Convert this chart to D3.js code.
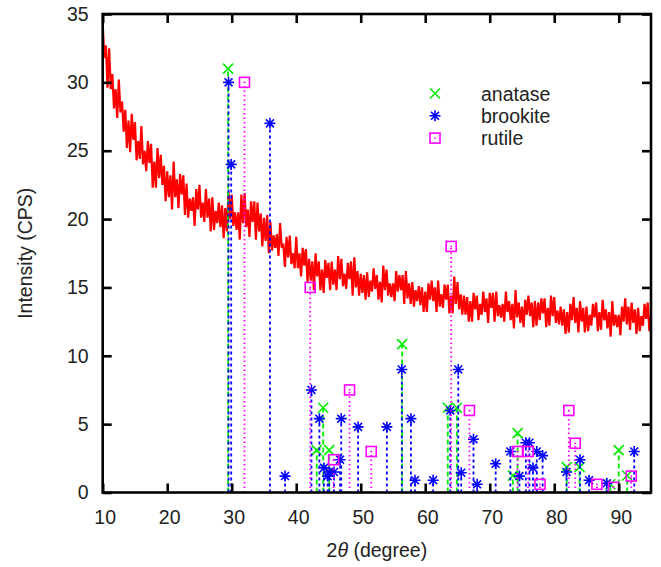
<!DOCTYPE html>
<html>
<head>
<meta charset="utf-8">
<title>XRD pattern</title>
<script src="https://cdn.jsdelivr.net/npm/d3@7"></script>
<style>
  body { margin: 0; background: #fff; }
  text { font-family: "Liberation Sans", Arial, Helvetica, sans-serif; fill: #222; }
</style>
</head>
<body>
<div id="chart"></div>
<script>

// measured scan, 2theta from 10 to 95 in steps of 0.25 degree
var scanStart = 10, scanStep = 0.25;
var intensity = [
  34.3, 31.8, 32.7, 29.6,  32.5, 29.5, 30.6, 28.1,  29.5, 27.4, 30.2, 27.8,  28.6, 26.4, 28.0, 25.2,
  27.2, 24.9, 27.7, 25.8,  27.1, 24.3, 25.7, 24.4,  26.8, 24.0, 25.0, 23.5,  25.7, 24.1, 25.5, 22.3,
  24.2, 22.3, 25.2, 23.0,  24.7, 22.5, 23.9, 21.3,  23.5, 21.6, 23.2, 20.7,  24.2, 21.6, 22.9, 20.8,
  23.3, 21.8, 23.2, 20.3,  22.6, 20.1, 21.5, 20.6,  21.6, 19.5, 22.2, 20.7,  22.5, 20.1, 21.2, 19.8,
  22.2, 20.1, 21.5, 19.1,  21.6, 19.2, 20.6, 19.7,  21.2, 19.4, 21.0, 18.6,  20.8, 19.1, 22.0, 20.0,
  21.8, 19.5, 20.5, 19.2,  20.5, 18.5, 21.8, 19.7,  21.9, 19.4, 20.7, 18.7,  21.3, 19.8, 21.3, 18.5,
  21.2, 19.1, 20.4, 18.0,  20.1, 18.4, 20.3, 17.5,  19.8, 17.7, 18.8, 17.9,  18.9, 17.3, 19.7, 17.9,
  18.2, 16.5, 18.7, 17.2,  18.8, 16.7, 17.5, 16.4,  18.7, 16.4, 17.5, 15.8,  17.9, 16.6, 17.8, 15.4,
  17.1, 15.5, 16.9, 14.8,  17.5, 15.8, 16.9, 14.8,  16.3, 14.6, 17.0, 15.7,  16.8, 14.8, 16.9, 15.2,
  16.3, 14.8, 17.3, 15.6,  17.1, 15.1, 16.0, 14.9,  16.8, 15.6, 16.9, 14.4,  17.2, 15.0, 16.2, 14.4,
  16.0, 14.6, 15.9, 14.1,  16.1, 14.3, 15.5, 14.7,  16.4, 14.9, 15.9, 14.1,  15.4, 13.9, 16.6, 14.8,
  16.3, 14.4, 15.3, 14.3,  15.3, 14.0, 16.2, 14.7,  15.9, 14.8, 15.9, 13.8,  16.2, 14.2, 15.3, 13.8,
  15.4, 13.6, 14.8, 14.0,  15.1, 13.7, 15.0, 13.2,  14.7, 13.2, 15.3, 14.1,  15.5, 14.0, 15.0, 13.2,
  15.5, 13.6, 14.5, 13.5,  15.2, 14.1, 15.2, 13.1,  14.4, 13.1, 15.8, 13.8,  15.4, 13.4, 14.5, 13.0,
  14.4, 13.0, 14.3, 12.5,  14.0, 12.5, 14.6, 13.4,  14.4, 12.6, 13.8, 13.0,  14.7, 13.2, 14.2, 12.4,
  14.6, 13.5, 14.6, 12.5,  14.7, 12.9, 13.7, 12.8,  13.8, 12.5, 14.7, 13.2,  14.0, 12.6, 13.8, 12.0,
  14.8, 12.8, 13.9, 12.4,  13.6, 12.1, 14.1, 13.0,  14.4, 12.9, 13.9, 12.1,  14.0, 12.2, 13.9, 12.6,
  14.2, 13.1, 14.2, 12.1,  13.5, 12.2, 14.4, 12.9,  14.3, 12.4, 13.3, 12.3,  13.6, 12.2, 13.4, 11.6,
  13.2, 11.7, 13.8, 12.6,  14.3, 12.4, 13.5, 11.7,  14.0, 12.5, 13.5, 11.7,  13.6, 11.8, 13.0, 12.2,
  13.8, 12.8, 13.9, 11.8,  13.2, 11.9, 14.1, 12.6,  13.4, 12.0, 13.2, 11.4,  14.0, 12.2, 13.0, 12.1,
  13.0, 11.5, 13.6, 12.5,  14.2, 12.3, 13.6, 11.9,  13.9, 12.4, 13.4, 11.6,  13.5, 11.8, 12.9, 12.2,
  13.8, 12.7, 13.9, 11.8,
  12.9
];

// reference lines (2theta, intensity)
var anataseAngle  = [29.44, 43.18, 44.19, 45.11, 56.42, 63.50, 64.91, 73.60, 74.32, 81.94, 83.92, 88.70, 90.00, 91.30];
var anataseHeight = [31.0, 3.1, 6.2, 3.1, 10.85, 6.2, 6.2, 1.24, 4.34, 1.86, 1.86, 0.6, 3.1, 1.24];

var brookiteAngle  = [29.51, 29.92, 35.93, 38.27, 42.36, 43.59, 44.30, 44.87, 45.11, 45.86, 46.80, 46.98, 49.59,
                      54.05, 56.37, 57.78, 58.41, 61.22, 63.88, 65.12, 65.58, 67.48, 68.05, 70.92, 73.20, 74.60,
                      75.60, 76.15, 76.70, 77.30, 78.20, 81.90, 84.00, 85.40, 88.15, 92.40];
var brookiteHeight = [30.0, 24.0, 27.0, 1.2, 7.5, 5.4, 1.8, 1.2, 1.5, 1.5, 2.4, 5.4, 4.8,
                      4.8, 9.0, 5.4, 0.9, 0.9, 6.0, 9.0, 1.45, 3.9, 0.6, 2.1, 3.0, 1.2,
                      3.64, 3.64, 1.8, 3.0, 2.7, 1.5, 2.4, 0.9, 0.67, 3.0];

var rutileAngle  = [31.98, 42.17, 45.80, 48.27, 51.63, 64.02, 66.85, 74.30, 75.95, 77.79, 82.26, 83.25, 86.62, 89.20, 91.94];
var rutileHeight = [30.0, 15.0, 2.4, 7.5, 3.0, 18.0, 6.0, 3.0, 3.0, 0.6, 6.0, 3.6, 0.6, 0.38, 1.2];

var xTicks = [10, 20, 30, 40, 50, 60, 70, 80, 90];
var yTicks = [0, 5, 10, 15, 20, 25, 30, 35];
var seriesNames = ["anatase", "brookite", "rutile"];

var W = 661, H = 567;
var L = 102.7, R = 651, T = 14, B = 492.5;

var x = d3.scaleLinear().domain([10, 95]).range([L, R]);
var y = d3.scaleLinear().domain([0, 35]).range([B, T]);

var svg = d3.select("#chart").append("svg")
    .attr("width", W)
    .attr("height", H);

svg.append("defs").append("clipPath").attr("id", "plotclip")
  .append("rect").attr("x", L).attr("y", T).attr("width", R - L).attr("height", B - T);

// scan curve
var scan = intensity.map(function(v, i) { return [scanStart + i * scanStep, v]; });
svg.append("path")
    .datum(scan)
    .attr("clip-path", "url(#plotclip)")
    .attr("fill", "none")
    .attr("stroke", "#ff0000")
    .attr("stroke-width", 2.2)
    .attr("d", d3.line().x(function(d) { return x(d[0]); }).y(function(d) { return y(d[1]); }));

// marker shapes
function cross(g, s) {
  g.append("path").attr("d", "M" + (-s) + "," + (-s) + "L" + s + "," + s + "M" + (-s) + "," + s + "L" + s + "," + (-s));
}
function star(g, s) {
  cross(g, s * 0.72);
  g.append("path").attr("d", "M" + (-s) + ",0L" + s + ",0M0," + (-s) + "L0," + s);
}
function box(g, s, col) {
  g.append("rect").attr("x", -s).attr("y", -s).attr("width", 2 * s).attr("height", 2 * s).attr("fill", "none");
  g.append("circle").attr("r", 0.9).attr("fill", col).attr("stroke", "none");
}

var series = [
  { angle: anataseAngle,  height: anataseHeight,  color: "#00ee00", dash: "5,3",   mark: function(g) { cross(g, 5); } },
  { angle: brookiteAngle, height: brookiteHeight, color: "#0000ff", dash: "3,3",   mark: function(g) { star(g, 5.5); } },
  { angle: rutileAngle,   height: rutileHeight,   color: "#ff00ff", dash: "1.5,3", mark: function(g) { box(g, 5, "#ff00ff"); } }
];

series.forEach(function(s) {
  var grp = svg.append("g");
  var pts = s.angle.map(function(a, i) { return { a: a, h: s.height[i] }; });
  grp.selectAll("line").data(pts).enter().append("line")
      .attr("x1", function(d) { return x(d.a); })
      .attr("x2", function(d) { return x(d.a); })
      .attr("y1", y(0))
      .attr("y2", function(d) { return y(d.h); })
      .attr("stroke", s.color)
      .attr("stroke-width", 1.8)
      .attr("stroke-dasharray", s.dash);
  grp.selectAll("g.pt").data(pts).enter().append("g")
      .attr("class", "pt")
      .attr("transform", function(d) { return "translate(" + x(d.a) + "," + y(d.h) + ")"; })
      .attr("stroke", s.color)
      .attr("stroke-width", 1.6)
      .each(function() { s.mark(d3.select(this)); });
});

// axes, ticks pointing inwards
var fs = "19.5px";
var bottomAxis = svg.append("g").attr("transform", "translate(0," + B + ")")
    .call(d3.axisBottom(x).tickValues(xTicks).tickSize(-9).tickPadding(18));
var topAxis = svg.append("g").attr("transform", "translate(0," + T + ")")
    .call(d3.axisTop(x).tickValues(xTicks).tickSize(-9).tickFormat(""));
var leftAxis = svg.append("g").attr("transform", "translate(" + L + ",0)")
    .call(d3.axisLeft(y).tickValues(yTicks).tickSize(-9).tickPadding(14));
var rightAxis = svg.append("g").attr("transform", "translate(" + R + ",0)")
    .call(d3.axisRight(y).tickValues(yTicks).tickSize(-9).tickFormat(""));

[bottomAxis, topAxis, leftAxis, rightAxis].forEach(function(a) {
  a.select(".domain").remove();
  a.selectAll("line").attr("stroke", "#000").attr("stroke-width", 2.6);
  a.selectAll("text").style("font-size", fs).attr("fill", "#222")
      .style("font-family", "'Liberation Sans', Arial, sans-serif");
});
bottomAxis.selectAll("text").attr("dx", "2");

svg.append("rect")
    .attr("x", L).attr("y", T)
    .attr("width", R - L).attr("height", B - T)
    .attr("fill", "none")
    .attr("stroke", "#000")
    .attr("stroke-width", 2.6);

// legend
var legend = svg.append("g");
series.forEach(function(s, i) {
  var row = legend.append("g").attr("transform", "translate(435," + (93.5 + i * 22.3) + ")");
  var m = row.append("g").attr("stroke", s.color).attr("stroke-width", 1.6);
  s.mark(m);
  row.append("text").attr("x", 46).attr("y", 7).style("font-size", fs).text(seriesNames[i]);
});

// axis titles
var xt = svg.append("text")
    .attr("x", (L + R) / 2)
    .attr("y", 557)
    .attr("text-anchor", "middle")
    .style("font-size", fs);
xt.append("tspan").text("2");
xt.append("tspan").style("font-style", "italic").text("\u03b8");
xt.append("tspan").text(" (degree)");

svg.append("text")
    .attr("transform", "translate(32," + ((T + B) / 2) + ") rotate(-90)")
    .attr("text-anchor", "middle")
    .style("font-size", fs)
    .text("Intensity (CPS)");

</script>
</body>
</html>
